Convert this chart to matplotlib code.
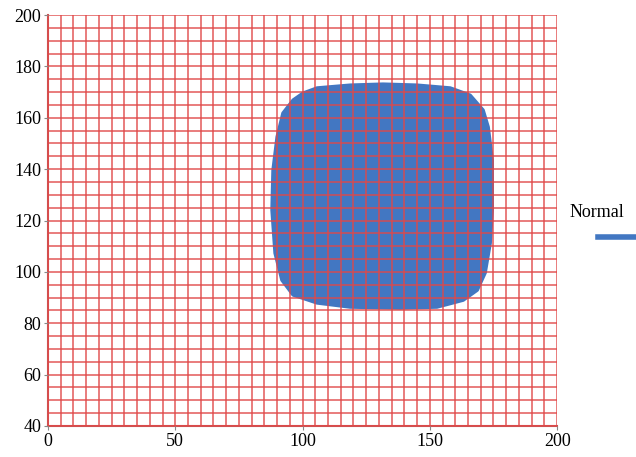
import matplotlib.pyplot as plt
from matplotlib.patches import Polygon
from matplotlib.lines import Line2D
import numpy as np

plt.rcParams['font.family'] = ['Liberation Serif', 'DejaVu Serif']

# outline of the "Normal" region
region_x = [105.7, 118.7, 131.6, 145.0, 158.0, 165.8, 170.9, 172.9, 174.5, 174.5,
            173.7, 171.7, 168.6, 163.1, 152.8, 138.3, 118.7, 105.7, 96.3, 91.9,
            89.2, 88.0, 88.4, 90.0, 92.3, 96.3, 100.2]
region_y = [171.6, 172.7, 173.1, 172.7, 171.6, 168.8, 163.0, 156.4, 143.5, 124.1,
            111.2, 99.6, 92.9, 89.0, 86.3, 85.9, 86.3, 87.9, 91.0, 96.8,
            107.3, 124.1, 139.6, 152.5, 161.8, 166.9, 169.6]
series_name = 'Normal'

x_ticks = [0, 50, 100, 150, 200]
y_ticks = [40, 60, 80, 100, 120, 140, 160, 180, 200]

blue = '#4277c2'
red = '#e04848'

fig = plt.figure(figsize=(6.36, 4.57), dpi=100)
ax = fig.add_axes([0.0755, 0.068, 0.8005, 0.899])

poly = Polygon(np.column_stack([region_x, region_y]), closed=True,
               facecolor=blue, edgecolor=blue, linewidth=2.5,
               joinstyle='round', zorder=1)
ax.add_patch(poly)

ax.set_xlim(0, 200)
ax.set_ylim(40, 200)
ax.set_xticks(x_ticks)
ax.set_yticks(y_ticks)
ax.set_xticks(np.arange(0, 201, 5), minor=True)
ax.set_yticks(np.arange(40, 201, 5), minor=True)
ax.tick_params(which='minor', length=0)
ax.tick_params(which='major', length=3, width=0.8, color='#888888',
               labelsize=13, pad=2)

ax.set_axisbelow(False)
ax.grid(True, which='both', color=red, linewidth=1.25, alpha=0.8, zorder=2)

for side in ['top', 'right']:
    ax.spines[side].set_visible(False)
for side in ['left', 'bottom']:
    ax.spines[side].set_color('#d05050')
    ax.spines[side].set_linewidth(1.5)

# legend outside the axes
fig.text(0.896, 0.535, series_name, fontsize=13, ha='left', va='center')
fig.add_artist(Line2D([0.94, 1.0], [0.482, 0.482], color=blue, linewidth=4,
                      transform=fig.transFigure))

fig.savefig('out.png', dpi=100)
